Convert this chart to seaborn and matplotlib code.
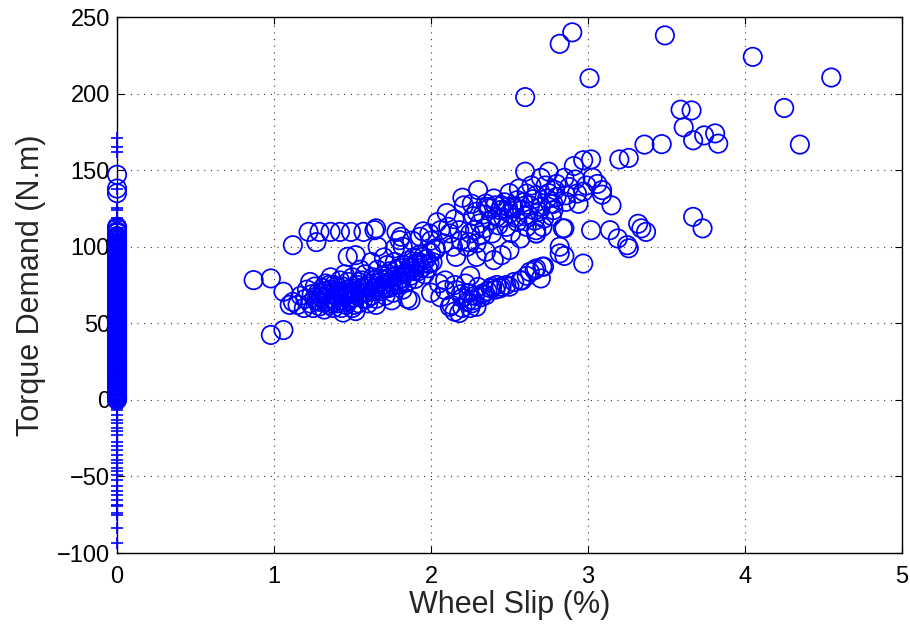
import matplotlib
matplotlib.use("Agg")
import matplotlib.pyplot as plt
import seaborn as sns
import pandas as pd

# ---- wheel slip (%) / torque demand (N.m) samples with non-zero slip ----
slip_outer = [2.82, 2.90, 2.60, 3.01, 3.49, 4.05, 4.25, 4.55, 4.35]
torque_outer = [232.5, 240, 197.7, 210, 238, 224, 190.6, 210.5, 166.7]

slip_arm = [3.59, 3.66, 3.61, 3.67, 3.74, 3.81, 3.83, 3.36, 3.47, 3.20, 3.26, 2.97, 3.02,
            2.91, 2.75, 2.60, 2.92, 3.03, 2.97, 3.09, 3.15, 2.94, 2.86, 3.67, 3.73]
torque_arm = [189.5, 189, 178, 169.5, 172.7, 174, 167.3, 166.7, 167, 157, 158, 156.5, 157,
              152.7, 149, 149, 143.9, 145, 136, 134, 127, 128, 129.3, 119.5, 112]

slip_right = [2.85, 3.02, 3.14, 3.19, 3.26, 3.25, 3.32, 3.34, 3.37, 2.82, 2.85, 2.97,
              2.67, 2.71, 2.78]
torque_right = [112, 110.8, 110.8, 105.4, 99, 101, 115, 112, 109.7, 100, 94, 89,
                108.6, 113, 128]

slip_mid = [2.21, 2.29, 2.35, 2.40, 2.44, 2.50, 2.55, 2.61, 2.67, 2.74, 2.80, 2.86, 2.93,
            2.99, 3.06, 3.09, 2.31, 2.38, 2.42, 2.48, 2.55, 2.61, 2.67, 2.72, 2.78, 2.84,
            2.39, 2.32, 2.25, 2.18, 2.12, 2.06, 1.99, 1.93, 2.08, 2.14, 2.23, 2.29, 2.35,
            2.50, 2.57, 2.67, 2.82, 1.95, 1.90, 1.87, 1.99, 2.16, 2.29, 2.40, 2.45,
            2.20, 2.30, 2.26, 2.45, 2.52, 2.58, 2.63, 2.70, 2.76, 2.50, 2.56, 2.64, 2.73,
            2.80, 2.85, 2.70, 2.10, 2.04, 2.15, 2.27, 2.37, 2.46, 2.60,
            2.33, 2.36, 2.41, 2.47, 2.53, 2.59, 2.65, 2.69, 2.75, 2.79, 2.88, 2.34,
            2.43, 2.49, 2.54, 2.62, 2.19, 2.24, 2.03, 2.11, 2.28, 2.51, 2.66, 2.77]
torque_mid = [127, 122.8, 128.2, 131.5, 123.9, 121.7, 130.4, 134.7, 133.6, 131.5, 132.5,
              133.6, 134.7, 140, 141, 137, 115.2, 117.3, 119.5, 113, 116.2, 113, 110.8,
              118.4, 123.9, 112, 108.7, 107.6, 108.7, 110.8, 108.7, 110.8, 108.7, 106.5,
              102.2, 100, 100, 102.2, 96.7, 97.8, 105.4, 108.7, 95.6, 93.4, 89, 87, 89,
              93.4, 93.4, 91.3, 94.5, 132, 137, 128, 127, 126, 124, 127, 126, 128, 135,
              138, 140, 140, 141, 145, 145, 122, 116, 118, 120, 125, 119, 120,
              121, 126, 127, 129, 125, 129, 131, 123, 135, 137, 139, 112,
              114, 126, 119, 121, 104, 103, 98, 113, 111, 109, 117, 120]

slip_flat = [1.12, 1.22, 1.27, 1.29, 1.36, 1.42, 1.49, 1.57, 1.64, 1.78, 1.81, 1.65, 1.80,
             1.52, 1.82, 1.88, 1.95, 2.00, 1.66, 1.77, 1.47]
torque_flat = [101, 109.7, 103, 109.7, 109.7, 109.7, 109.7, 109.7, 110.8, 109.7, 106.5,
               112, 104.3, 94.5, 100, 104, 110, 104, 100, 99, 93.4]

slip_low = [0.87, 0.98, 1.06, 1.23, 0.98, 1.06, 1.10, 1.12]
torque_low = [78.2, 79.3, 70.6, 77, 42.4, 45.6, 62, 64]

slip_core = [1.15, 1.17, 1.19, 1.20, 1.21, 1.23, 1.24, 1.25, 1.26, 1.27,
             1.28, 1.29, 1.30, 1.31, 1.32, 1.33, 1.33, 1.34, 1.35, 1.36,
             1.37, 1.38, 1.38, 1.39, 1.40, 1.41, 1.42, 1.42, 1.43, 1.44,
             1.45, 1.46, 1.47, 1.47, 1.48, 1.49, 1.50, 1.50, 1.51, 1.52,
             1.53, 1.54, 1.55, 1.56, 1.57, 1.57, 1.58, 1.59, 1.60, 1.61,
             1.62, 1.63, 1.64, 1.65, 1.66, 1.67, 1.68, 1.69, 1.70, 1.71,
             1.72, 1.72, 1.73, 1.74, 1.75, 1.76, 1.77, 1.78, 1.79, 1.80,
             1.81, 1.82, 1.83, 1.84, 1.85, 1.86, 1.87, 1.88, 1.89, 1.90,
             1.91, 1.92, 1.93, 1.95, 1.96, 1.97, 1.98, 2.00, 2.01, 2.03,
             1.36, 1.45, 1.55, 1.62, 1.52, 1.44, 1.65, 1.75, 1.85, 1.70, 1.87,
             1.26, 1.29, 1.31, 1.34, 1.37, 1.39, 1.41, 1.43, 1.46, 1.48,
             1.49, 1.51, 1.53, 1.55, 1.58, 1.60, 1.63, 1.66, 1.68, 1.71,
             1.73, 1.76, 1.78, 1.81, 1.83, 1.86, 1.89, 1.92, 1.94, 1.32,
             1.35, 1.40, 1.44, 1.50, 1.54, 1.59, 1.64, 1.69, 1.74, 1.79]
torque_core = [62, 68, 60, 66, 72, 63, 69, 60, 74, 65,
               70, 61, 67, 73, 59, 64, 76, 69, 62, 72,
               66, 60, 75, 68, 63, 71, 78, 65, 60, 74,
               68, 62, 77, 70, 65, 73, 60, 80, 67, 71,
               75, 63, 69, 78, 66, 73, 82, 70, 63, 76,
               68, 80, 73, 66, 85, 77, 71, 81, 75, 68,
               88, 79, 73, 84, 77, 70, 90, 81, 75, 86,
               79, 72, 88, 83, 77, 91, 81, 86, 93, 79,
               88, 84, 95, 89, 82, 92, 86, 96, 90, 99,
               80, 82, 85, 90, 58, 57, 62, 65, 66, 93, 65,
               67, 64, 70, 66, 63, 71, 67, 69, 64, 72,
               66, 62, 68, 72, 70, 74, 71, 76, 79, 73,
               82, 75, 85, 77, 82, 84, 84, 90, 86, 71,
               75, 74, 70, 70, 77, 66, 78, 73, 80, 78]

slip_band = [2.06, 2.12, 2.15, 2.20, 2.24, 2.26, 2.22, 2.30, 2.39, 2.45, 2.50, 2.57,
             2.63, 2.67, 2.71, 2.16, 2.09, 2.29, 2.35, 2.18, 2.58, 2.66, 2.72, 2.70,
             2.44, 2.38, 2.33, 2.27, 2.25, 2.13, 2.20, 2.32, 2.41, 2.48, 2.53, 2.00,
             2.05, 2.09, 2.15, 2.25, 2.23, 2.28, 2.36, 2.42, 2.61, 2.19]
torque_band = [67, 60.8, 57.6, 66.5, 69.7, 63, 76, 73.7, 73.9, 73.9, 73.9, 78,
               83.6, 85.8, 87, 71.7, 71.7, 60.8, 68.4, 56.7, 78, 84.7, 87, 79.3,
               72.8, 72.8, 69.5, 65, 60, 62, 60, 67, 72, 75, 77, 70,
               76, 78, 75, 81, 64, 68, 71, 75, 81, 69]

# ---- samples recorded at zero slip ----
torque_zero_circle = [0, 0.5, 1, 1.5, 2, 3, 3.5, 4, 5, 5.5, 6.5, 7, 8, 8.5, 9.5, 10,
                      11, 12, 12.5, 13.5, 14, 15, 16, 17, 17.5, 18.5, 19, 20, 21,
                      21.5, 22.5, 23, 24, 25, 26, 26.5, 27.5, 28.5, 29, 30, 31, 32,
                      32.5, 33.5, 34, 35, 36, 37, 37.5, 38.5, 39, 40, 41, 42, 42.5,
                      43.5, 44, 45, 46, 47, 47.5, 48.5, 49, 50, 51, 52, 53, 54,
                      54.5, 55.5, 56, 57, 58, 59, 60, 61, 62, 63, 64, 65, 66, 67,
                      68, 69, 70, 71, 72, 73, 74, 75, 76, 77, 78, 79, 80, 81, 82,
                      83, 84, 85, 86, 87, 88, 89, 90, 91, 92, 93, 94, 95, 96, 97,
                      98, 99, 100, 101, 102, 103, 104, 105, 106, 107, 109, 110,
                      112, 113, 135, 138, 147]
torque_zero_plus = [171, 165, 162, 138, 125, 124, 119, 117, 115, 112, 106, 98, 90, 81,
                    70, 62, 55, 47, 38, 30, 22, 15, 8, 3, 0, -1, -2, -3, -4, -5,
                    -6.5, -9.8, -13, -15.2, -18.5, -20.6, -22.8, -27.2, -30.4, -32.6,
                    -35.9, -39.1, -41.3, -44.5, -46.7, -48.9, -52.2, -56.5, -59.8,
                    -61.9, -65.2, -68.4, -69.5, -73.9, -75, -83.6, -93.4]

x_ticks = [0, 1, 2, 3, 4, 5]
y_ticks = [-100, -50, 0, 50, 100, 150, 200, 250]

slip = (slip_outer + slip_arm + slip_right + slip_mid + slip_flat + slip_low
        + slip_core + slip_band + [0.0] * len(torque_zero_circle))
torque = (torque_outer + torque_arm + torque_right + torque_mid + torque_flat
          + torque_low + torque_core + torque_band + torque_zero_circle)
circles = pd.DataFrame({"slip": slip, "torque": torque})
pluses = pd.DataFrame({"slip": [0.0] * len(torque_zero_plus), "torque": torque_zero_plus})

sns.set_theme(style="white")
plt.rcParams["font.family"] = ["Liberation Sans", "DejaVu Sans"]

fig = plt.figure(figsize=(9.1, 6.26), dpi=100)
ax = fig.add_axes([0.1286, 0.1166, 0.8625, 0.8562])

blue = (0, 0, 1)
sns.scatterplot(data=pluses, x="slip", y="torque", marker="+", s=75, color=blue,
                linewidth=1.2, ax=ax, clip_on=False, zorder=3)
sns.scatterplot(data=circles, x="slip", y="torque", marker="o", s=175,
                facecolor="none", edgecolor=blue, linewidth=1.25, ax=ax,
                clip_on=False, zorder=4)

ax.set_xlim(0, 5)
ax.set_ylim(-100, 250)
ax.set_xticks(x_ticks)
ax.set_yticks(y_ticks)
ax.set_xticklabels([str(v) for v in x_ticks])
ax.set_yticklabels([str(v).replace("-", "\u2212") for v in y_ticks])

ax.grid(True, color="#333333", linestyle=(0, (1, 5)), linewidth=0.8)
for side in ["top", "right", "bottom", "left"]:
    ax.spines[side].set_visible(True)
    ax.spines[side].set_color("black")
    ax.spines[side].set_linewidth(1.0)
ax.tick_params(axis="both", direction="in", length=5, width=0.8, colors="black",
               labelsize=17, top=True, right=True, bottom=True, left=True)
ax.tick_params(axis="x", pad=9)
ax.tick_params(axis="y", pad=5)

ax.set_xlabel("Wheel Slip (%)", fontsize=22, labelpad=2)
ax.set_ylabel("Torque Demand (N.m)", fontsize=22, labelpad=8)

fig.savefig("out.png", dpi=100, facecolor="white")
